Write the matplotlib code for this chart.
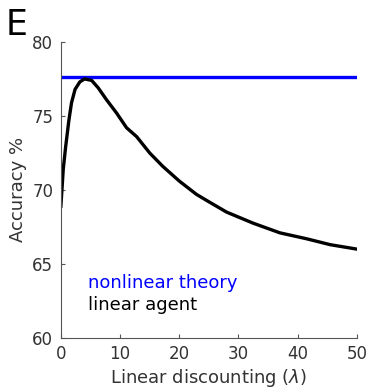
import numpy as np
import matplotlib
matplotlib.use("Agg")
import matplotlib.pyplot as plt

# linear agent accuracy vs discounting
lam = [0, 0.4, 0.8, 1.35, 1.8, 2.4, 3.2, 4.0, 5.2, 6.3, 7.7, 9.4, 11.1, 12.8,
       15.0, 17.2, 20.0, 22.9, 25.0, 28.0, 32.5, 37.0, 41.5, 45.5, 50]
acc_linear = [68.9, 71.4, 72.9, 74.7, 75.9, 76.8, 77.3, 77.5, 77.4, 76.9, 76.1,
              75.2, 74.2, 73.6, 72.5, 71.6, 70.6, 69.7, 69.2, 68.5, 67.75, 67.1,
              66.7, 66.3, 66.0]
acc_theory = 77.65

xticks = [0, 10, 20, 30, 40, 50]
yticks = [60, 65, 70, 75, 80]

gray = "#333333"
plt.rcParams['font.family'] = ['DejaVu Sans']

fig = plt.figure(figsize=(3.69, 3.92), dpi=100)
ax = fig.add_axes([0.165, 0.138, 0.802, 0.755])

ax.plot([0, 50], [acc_theory, acc_theory], color="#0000ff", lw=2.4)
ax.plot(lam, acc_linear, color="black", lw=2.4)

ax.set_xlim(0, 50)
ax.set_ylim(60, 80)
ax.set_xticks(xticks)
ax.set_yticks(yticks)
for s in ["top", "right"]:
    ax.spines[s].set_visible(False)
for s in ["left", "bottom"]:
    ax.spines[s].set_color("#555555")
    ax.spines[s].set_linewidth(0.8)
ax.tick_params(direction="in", length=3, width=0.8, color="#555555",
               labelsize=12, labelcolor=gray)
ax.tick_params(axis="y", pad=5.5)
ax.tick_params(axis="x", pad=5)
ax.set_xlabel("Linear discounting ($\\lambda$)", fontsize=13, color=gray, labelpad=3)
ax.set_ylabel("Accuracy %", fontsize=13, color=gray, labelpad=4)

ax.text(0.091, 0.186, "nonlinear theory", color="#0000ff", fontsize=13,
        transform=ax.transAxes, va="center")
ax.text(0.091, 0.111, "linear agent", color="black", fontsize=13,
        transform=ax.transAxes, va="center")

fig.text(0.015, 0.911, "E", fontsize=25, color="black", va="baseline", ha="left")

fig.savefig("out.png", dpi=100)
